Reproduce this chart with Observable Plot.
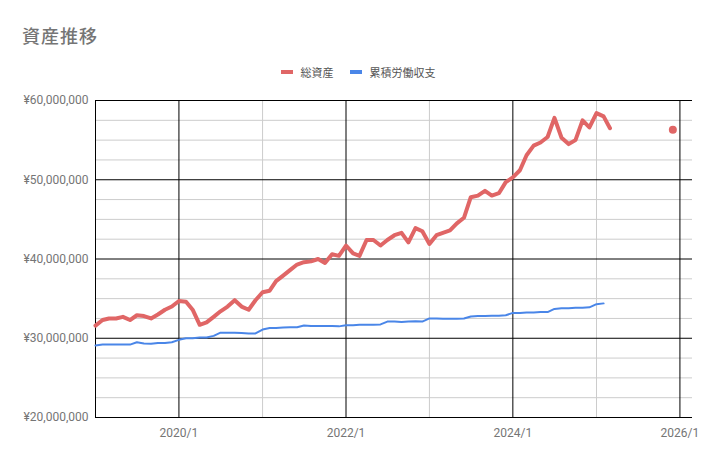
<!DOCTYPE html>
<html>
<head>
<meta charset="utf-8">
<script src="https://cdn.jsdelivr.net/npm/d3@7"></script>
<script src="https://cdn.jsdelivr.net/npm/@observablehq/plot@0.6"></script>
<style>
  html, body { margin: 0; padding: 0; background: #fff; }
  #wrap { width: 716px; height: 462px; position: relative; overflow: hidden; }
  #head { position: relative; width: 716px; height: 85px; }
  #title { position: absolute; left: 22px; top: 25px; font-family: "Noto Sans CJK JP", "Noto Sans", sans-serif; font-size: 18px; line-height: 20px; color: #757575; font-weight: 500; letter-spacing: 1px; }
  #legend { position: absolute; left: 0; width: 716px; top: 64px; display: flex; justify-content: center; align-items: center; font-family: "Noto Sans CJK JP", sans-serif; font-size: 11px; color: #555; }
  .item { display: flex; align-items: center; margin: 0 8px; }
  .sw { display: inline-block; width: 12px; height: 4px; margin-right: 8px; }
</style>
</head>
<body>
<div id="wrap">
  <div id="head">
    <div id="title">資産推移</div>
    <div id="legend"></div>
  </div>
  <div id="chart"></div>
</div>
<script>
// ---- data ----
const startMonth = "2019-01";
const seriesNames = ["総資産", "累積労働収支"];
const seriesColors = ["#e06666", "#4a86e8"];
// 総資産 (yen), monthly from 2019/1; null = no data
const totalAssets = [
  31600000, 32300000, 32500000, 32500000, 32700000, 32300000, 32900000, 32800000, 32500000, 33000000, 33600000, 34000000,
  34700000, 34600000, 33600000, 31700000, 32000000, 32700000, 33400000, 34000000, 34800000, 34000000, 33600000, 34800000,
  35800000, 36000000, 37200000, 37900000, 38600000, 39300000, 39600000, 39700000, 40000000, 39500000, 40600000, 40400000,
  41700000, 40700000, 40400000, 42400000, 42400000, 41700000, 42400000, 43000000, 43300000, 42100000, 43900000, 43500000,
  41900000, 43000000, 43300000, 43600000, 44500000, 45200000, 47800000, 48000000, 48600000, 48000000, 48300000, 49700000,
  50300000, 51200000, 53100000, 54300000, 54700000, 55400000, 57800000, 55300000, 54500000, 55000000, 57500000, 56600000,
  58400000, 58000000, 56500000, null, null, null, null, null, null, null, null, 56300000
];
// 累積労働収支 (yen), monthly from 2019/1
const laborCumulative = [
  29100000, 29200000, 29200000, 29200000, 29200000, 29200000, 29500000, 29350000, 29300000, 29400000, 29400000, 29500000,
  29800000, 30000000, 30000000, 30100000, 30100000, 30300000, 30700000, 30700000, 30700000, 30650000, 30600000, 30600000,
  31100000, 31300000, 31300000, 31350000, 31400000, 31400000, 31600000, 31550000, 31550000, 31550000, 31550000, 31500000,
  31650000, 31650000, 31700000, 31700000, 31700000, 31750000, 32100000, 32100000, 32050000, 32100000, 32150000, 32100000,
  32500000, 32500000, 32450000, 32450000, 32450000, 32500000, 32750000, 32800000, 32800000, 32850000, 32850000, 32900000,
  33200000, 33200000, 33250000, 33250000, 33300000, 33300000, 33700000, 33800000, 33800000, 33850000, 33850000, 33900000,
  34300000, 34400000
];
const yMajorTicks = [20000000, 30000000, 40000000, 50000000, 60000000];
const yMinorStep = 2500000;
const xMajorTicks = ["2020-01-01", "2022-01-01", "2024-01-01", "2026-01-01"];
const xMinorTicks = ["2021-01-01", "2023-01-01", "2025-01-01"];
const xDomain = ["2019-01-01", "2026-02-25"];

// ---- build table ----
const start = new Date(startMonth + "-01T00:00:00Z");
const monthDate = i => d3.utcMonth.offset(start, i);
const rows = [];
totalAssets.forEach((v, i) => rows.push({date: monthDate(i), value: v, series: seriesNames[0], i}));
laborCumulative.forEach((v, i) => rows.push({date: monthDate(i), value: v, series: seriesNames[1], i}));
const redRows = rows.filter(r => r.series === seriesNames[0]);
const blueRows = rows.filter(r => r.series === seriesNames[1]);
const isolated = redRows.filter((r, k) => r.value != null &&
  (k === 0 || redRows[k - 1].value == null) && (k === redRows.length - 1 || redRows[k + 1].value == null));

const yMinor = d3.range(yMajorTicks[0], yMajorTicks[yMajorTicks.length - 1] + 1, yMinorStep).filter(v => !yMajorTicks.includes(v));
const toDate = s => new Date(s + "T00:00:00Z");

// legend
const legend = document.getElementById("legend");
seriesNames.forEach((n, k) => {
  const it = document.createElement("div");
  it.className = "item";
  it.innerHTML = `<span class="sw" style="background:${seriesColors[k]}"></span><span>${n}</span>`;
  legend.appendChild(it);
});

const fmtYen = v => "¥" + d3.format(",")(v);

const chart = Plot.plot({
  width: 716,
  height: 377,
  marginLeft: 95,
  marginRight: 24,
  marginTop: 15,
  marginBottom: 45,
  style: {fontFamily: "Roboto, sans-serif", fontSize: "12px", color: "#757575", background: "#fff"},
  x: {type: "utc", domain: xDomain.map(toDate)},
  y: {domain: [yMajorTicks[0], yMajorTicks[yMajorTicks.length - 1]]},
  marks: [
    Plot.ruleY(yMinor, {stroke: "#cccccc", strokeWidth: 1}),
    Plot.ruleX(xMinorTicks.map(toDate), {stroke: "#cccccc", strokeWidth: 1}),
    Plot.ruleY(yMajorTicks, {stroke: "#000", strokeWidth: 1}),
    Plot.ruleX(xMajorTicks.map(toDate), {stroke: "#000", strokeWidth: 1}),
    Plot.ruleX([toDate(xDomain[0])], {stroke: "#000", strokeWidth: 1}),
    Plot.axisY({ticks: yMajorTicks, tickFormat: fmtYen, tickSize: 0, tickPadding: 7, label: null}),
    Plot.axisX({ticks: xMajorTicks.map(toDate), tickFormat: d3.utcFormat("%Y/%-m"), tickSize: 0, tickPadding: 11, label: null}),
    Plot.line(blueRows, {x: "date", y: "value", stroke: seriesColors[1], strokeWidth: 2, strokeLinejoin: "round", defined: d => d.value != null}),
    Plot.line(redRows, {x: "date", y: "value", stroke: seriesColors[0], strokeWidth: 4, strokeLinejoin: "round", defined: d => d.value != null}),
    Plot.dot(isolated, {x: "date", y: "value", r: 4, fill: seriesColors[0], stroke: null})
  ]
});
document.getElementById("chart").appendChild(chart);
</script>
</body>
</html>
